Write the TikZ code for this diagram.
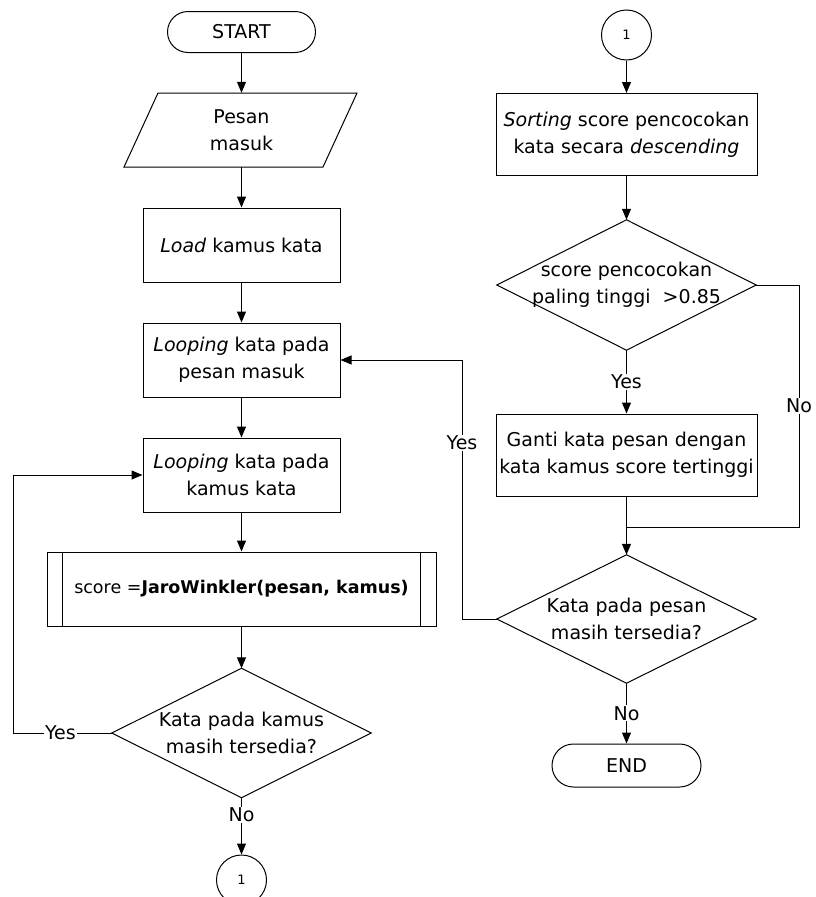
\documentclass[tikz,border=0pt]{standalone}
\usepackage{fontspec}
\setmainfont{DejaVu Sans}
\usetikzlibrary{arrows.meta,calc}
\begin{document}
\begin{tikzpicture}[x=1pt,y=-1pt,
  every node/.style={font=\fontsize{19}{27}\selectfont, align=center},
  box/.style={draw, line width=1pt, inner sep=0pt},
  term/.style={draw, line width=1pt, rounded corners=20.5pt, minimum height=41pt, inner sep=0pt},
  conn/.style={draw, line width=1pt, circle, minimum size=50pt, inner sep=0pt, font=\fontsize{13}{15}\selectfont},
  dia/.style={inner sep=0pt},
  line/.style={line width=1pt},
  flow/.style={line width=1pt, -{Triangle[length=11pt,width=9pt]}},
  lbl/.style={fill=white, inner sep=1pt}
]
\useasboundingbox (0,0) rectangle (816,897);

% ---------- left column ----------
\node[term, minimum width=148pt] (start) at (241.5,32) {START};
\node[inner sep=0pt, minimum width=165pt, minimum height=74pt] (pesan) at (241.5,130) {Pesan\\masuk};
\draw[line] ($(pesan.center)+(-83.5,-37)$) -- ($(pesan.center)+(115.5,-37)$)
  -- ($(pesan.center)+(81.5,37)$) -- ($(pesan.center)+(-117.5,37)$) -- cycle;
\node[box, minimum width=197pt, minimum height=74pt] (load) at (241.5,245) {\textit{Load} kamus kata};
\node[box, minimum width=197pt, minimum height=74pt] (loop1) at (241.5,360) {\textit{Looping} kata pada\\pesan masuk};
\node[box, minimum width=197pt, minimum height=74pt] (loop2) at (241.5,475) {\textit{Looping} kata pada\\kamus kata};
\node[box, minimum width=389pt, minimum height=74pt, font=\fontsize{17.5}{24}\selectfont] (jw) at (241.5,589) {score =\textbf{JaroWinkler(pesan, kamus)}};
\draw[line] ([xshift=16pt]jw.north west) -- ([xshift=16pt]jw.south west);
\draw[line] ([xshift=-16pt]jw.north east) -- ([xshift=-16pt]jw.south east);
\node[dia, minimum width=259pt, minimum height=129pt] (d1) at (241.5,733) {Kata pada kamus\\masih tersedia?};
\draw[line] (d1.north) -- (d1.east) -- (d1.south) -- (d1.west) -- cycle;
\node[conn] (c1b) at (241.5,880) {1};

\coordinate (lyc) at (13,733);

\draw[flow] (start) -- (pesan);
\draw[flow] (pesan) -- (load);
\draw[flow] (load) -- (loop1);
\draw[flow] (loop1) -- (loop2);
\draw[flow] (loop2) -- (jw);
\draw[flow] (jw) -- (d1.north);
\draw[flow] (d1.west) -- node[lbl, pos=0.52]{Yes} (lyc) |- (loop2.west);
\draw[flow] (d1.south) -- node[lbl, pos=0.3]{No} (c1b.north);

% ---------- right column ----------
\node[conn] (c1t) at (626.5,35) {1};
\node[box, minimum width=261pt, minimum height=82pt] (sort) at (626.5,134.5) {\textit{Sorting} score pencocokan\\kata secara \textit{descending}};
\node[dia, minimum width=259pt, minimum height=130pt] (d2) at (626.5,285) {score pencocokan\\paling tinggi \ >0.85};
\draw[line] (d2.north) -- (d2.east) -- (d2.south) -- (d2.west) -- cycle;
\node[box, minimum width=261pt, minimum height=82pt] (ganti) at (626.5,455) {Ganti kata pesan dengan\\kata kamus score tertinggi};
\node[dia, minimum width=259pt, minimum height=128pt] (d3) at (626.5,619) {Kata pada pesan\\masih tersedia?};
\draw[line] (d3.north) -- (d3.east) -- (d3.south) -- (d3.west) -- cycle;
\node[term, minimum width=149pt, rounded corners=21.5pt, minimum height=43pt] (end) at (626.5,765.5) {END};

\coordinate (nr) at (799,285);
\coordinate (nrb) at (799,527);
\coordinate (merge) at (626.5,527);
\coordinate (yl) at (462,619);
\coordinate (yt) at (462,360);

\draw[flow] (c1t) -- (sort);
\draw[flow] (sort) -- (d2.north);
\draw[flow] (d2.south) -- node[lbl, pos=0.5]{Yes} (ganti.north);
\draw[line] (d2.east) -- (nr) -- node[lbl, pos=0.5]{No} (nrb) -- (merge);
\draw[flow] (ganti) -- (d3.north);
\draw[flow] (d3.west) -- (yl) -- node[lbl, pos=0.68]{Yes} (yt) -- (loop1.east);
\draw[flow] (d3.south) -- node[lbl, pos=0.5]{No} (end.north);
\end{tikzpicture}
\end{document}
